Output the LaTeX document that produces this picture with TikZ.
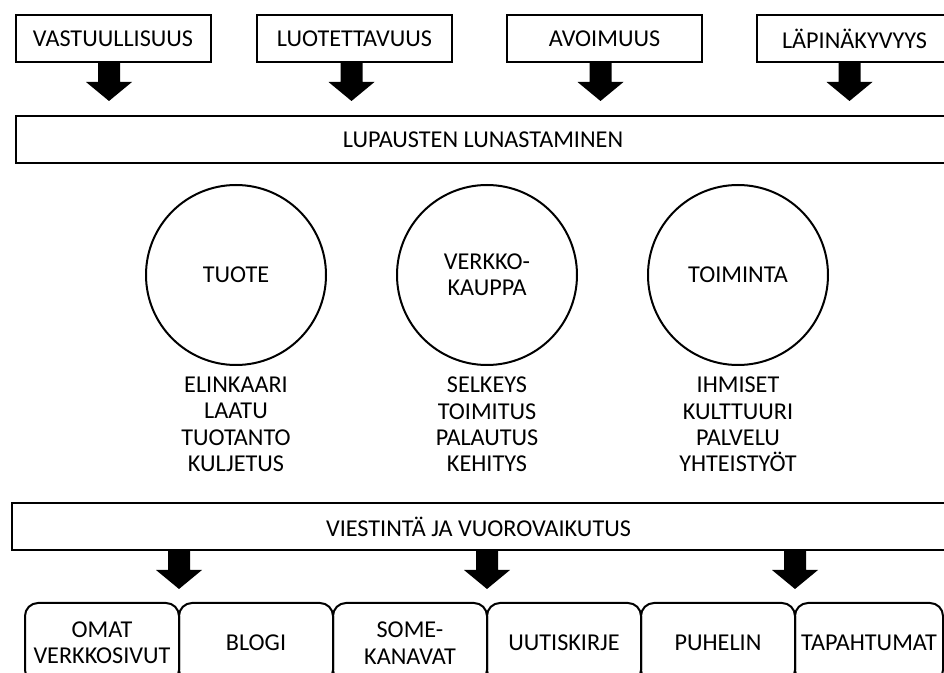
\documentclass[tikz,border=0pt]{standalone}
\usepackage{fontspec}
\setmainfont{Carlito}
\usetikzlibrary{positioning}

\tikzset{
  value/.style={draw, line width=1pt, minimum width=97.5pt, minimum height=23.5pt, inner sep=0pt},
  bar/.style={draw, line width=1pt, minimum width=467pt, minimum height=23.5pt, inner sep=0pt},
  area/.style={draw, circle, line width=1pt, minimum size=90pt, inner sep=0pt, align=center},
  items/.style={inner sep=0pt, align=center},
  channel/.style={draw, line width=1pt, rounded corners=6.5pt, minimum width=77pt, minimum height=40pt, inner sep=0pt, align=center},
  blockarrow/.pic={\fill (-11,0) -- (11,0) -- (11,20) -- (23,20) -- (0,39) -- (-23,20) -- (-11,20) -- cycle;}
}

\begin{document}
\begin{tikzpicture}[x=0.5pt, y=-0.5pt, every node/.style={outer sep=0pt}, font=\fontsize{12.1}{13.2}\selectfont]
    \useasboundingbox (0,0) rectangle (944,673);
    \clip (0,0) rectangle (944,673);

    % Values
    \node[value] (vastuu) at (113,38.5) {VASTUULLISUUS};
    \node[value] (luotet) at (354.5,38.5) {LUOTETTAVUUS};
    \node[value] (avoim) at (604.5,38.5) {AVOIMUUS};
    \node[value] (lapin) at (854.5,38.5) {LÄPINÄKYVYYS};

    % Promise bar
    \node[bar] (lupaus) at (483,140) {LUPAUSTEN LUNASTAMINEN};
    \pic at ([xshift=-2pt]vastuu.south) {blockarrow};
    \pic at ([xshift=-1.5pt]luotet.south) {blockarrow};
    \pic at ([xshift=-2pt]avoim.south) {blockarrow};
    \pic at ([xshift=-2.5pt]lapin.south) {blockarrow};

    % Areas
    \node[area] (tuote) at (236,275) {TUOTE};
    \node[area] (verkko) at (487,275) {VERKKO-\\KAUPPA};
    \node[area] (toim) at (738,275) {TOIMINTA};
    \node[items, below=6pt of tuote] (tuotelist) {ELINKAARI\\LAATU\\TUOTANTO\\KULJETUS};
    \node[items, below=6pt of verkko] (verkkolist) {SELKEYS\\TOIMITUS\\PALAUTUS\\KEHITYS};
    \node[items, below=6pt of toim] (toimlist) {IHMISET\\KULTTUURI\\PALVELU\\YHTEISTYÖT};

    % Communication bar
    \node[bar, minimum width=466.5pt] (viest) at (478.5,526.5) {VIESTINTÄ JA VUOROVAIKUTUS};

    % Channels
    \node[channel] (omat) at (102,643) {OMAT\\VERKKOSIVUT};
    \node[channel, right=0pt of omat] (blogi) {BLOGI};
    \node[channel, right=0pt of blogi] (some) {SOME-\\KANAVAT};
    \node[channel, right=0pt of some] (uutis) {UUTISKIRJE};
    \node[channel, right=0pt of uutis] (puhelin) {PUHELIN};
    \node[channel, right=0pt of puhelin, minimum width=74pt] (tapaht) {TAPAHTUMAT};
    \pic at (omat.north east |- viest.south) {blockarrow};
    \pic at (some.north east |- viest.south) {blockarrow};
    \pic at (puhelin.north east |- viest.south) {blockarrow};
\end{tikzpicture}
\end{document}
